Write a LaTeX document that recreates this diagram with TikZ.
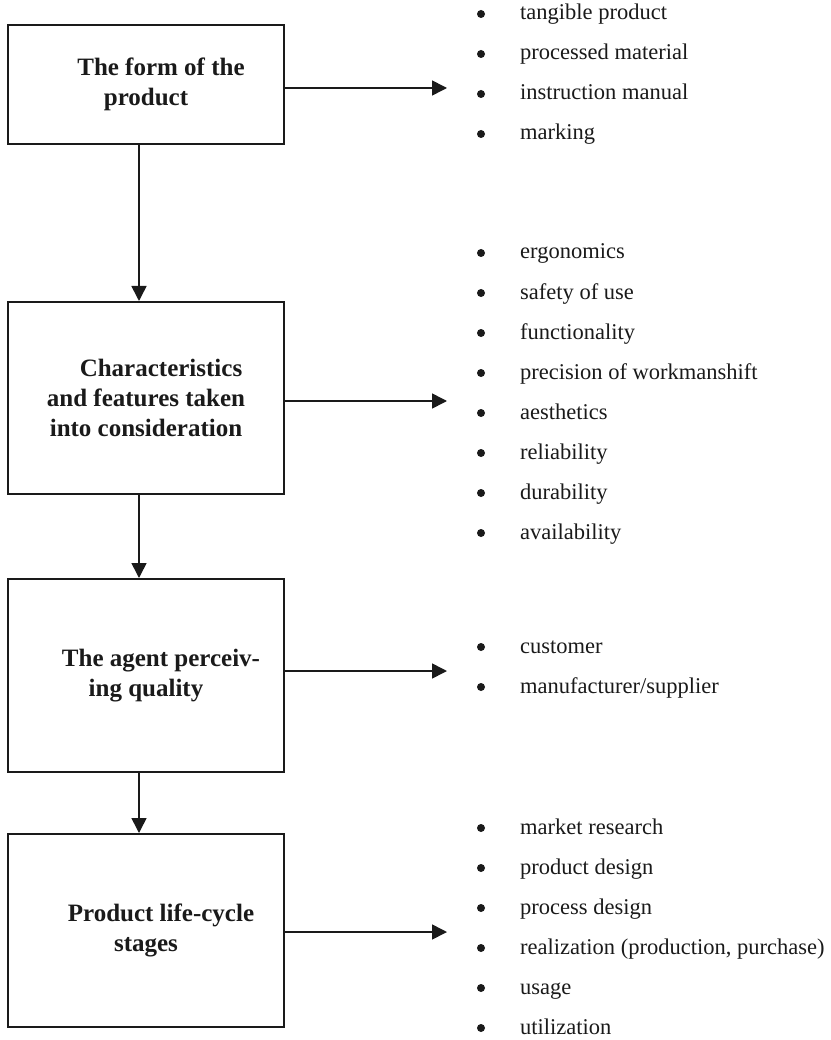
\documentclass[tikz,border=0pt]{standalone}
\usepackage{fontspec}
\setmainfont{Liberation Serif}
\usetikzlibrary{arrows.meta}
\definecolor{ink}{HTML}{1A1A1A}
\tikzset{
  box/.style={draw=ink, line width=2pt, minimum width=276pt, align=center,
    text=ink, font=\bfseries\fontsize{25}{30}\selectfont, inner sep=0pt},
  arr/.style={draw=ink, line width=1.6pt, -{Triangle[length=15pt,width=15pt]}},
  item/.style={anchor=base west, text=ink, font=\fontsize{22.5}{27}\selectfont, inner sep=0pt},
  dot/.style={circle, fill=ink, inner sep=0pt, minimum size=8pt},
}
% place one bullet point with its text; #1 = name, #2 = y, #3 = text
\newcommand{\bulletitem}[3]{%
  \node[dot] (#1d) at (481,#2) {};
  \node[item] (#1) at (520,#2+6) {#3};
}
\begin{document}
\begin{tikzpicture}[x=1pt,y=-1pt]
\useasboundingbox[fill=white] (0,0) rectangle (830,1040);

% boxes
\node[box, minimum height=119pt] (b1) at (146,84.5)
  {\hspace*{30pt}The form of the\\product};
\node[box, minimum height=192pt] (b2) at (146,398)
  {\hspace*{30pt}Characteristics\\and features taken\\into consideration};
\node[box, minimum height=193pt] (b3) at (146,675.5)
  {\hspace*{30pt}The agent perceiv-\\ing quality};
\node[box, minimum height=193pt] (b4) at (146,930.5)
  {\hspace*{30pt}Product life-cycle\\stages};

% free ends of the side arrows
\coordinate (t1) at (447,88);
\coordinate (t2) at (447,401);
\coordinate (t3) at (447,671);
\coordinate (t4) at (447,932);
\coordinate (vx) at (139,0);

% side arrows
\draw[arr] (b1.east |- t1) -- (t1);
\draw[arr] (b2.east |- t2) -- (t2);
\draw[arr] (b3.east |- t3) -- (t3);
\draw[arr] (b4.east |- t4) -- (t4);

% downward arrows
\draw[arr] (b1.south -| vx) -- (b2.north -| vx);
\draw[arr] (b2.south -| vx) -- (b3.north -| vx);
\draw[arr] (b3.south -| vx) -- (b4.north -| vx);

% lists
\bulletitem{a1}{14}{tangible product}
\bulletitem{a2}{54}{processed material}
\bulletitem{a3}{94}{instruction manual}
\bulletitem{a4}{134}{marking}

\bulletitem{c1}{253}{ergonomics}
\bulletitem{c2}{293}{safety of use}
\bulletitem{c3}{333}{functionality}
\bulletitem{c4}{373}{precision of workmanshift}
\bulletitem{c5}{413}{aesthetics}
\bulletitem{c6}{453}{reliability}
\bulletitem{c7}{493}{durability}
\bulletitem{c8}{533}{availability}

\bulletitem{g1}{647}{customer}
\bulletitem{g2}{687}{manufacturer/supplier}

\bulletitem{s1}{828}{market research}
\bulletitem{s2}{868}{product design}
\bulletitem{s3}{908}{process design}
\bulletitem{s4}{948}{realization (production, purchase)}
\bulletitem{s5}{988}{usage}
\bulletitem{s6}{1028}{utilization}
\end{tikzpicture}
\end{document}
